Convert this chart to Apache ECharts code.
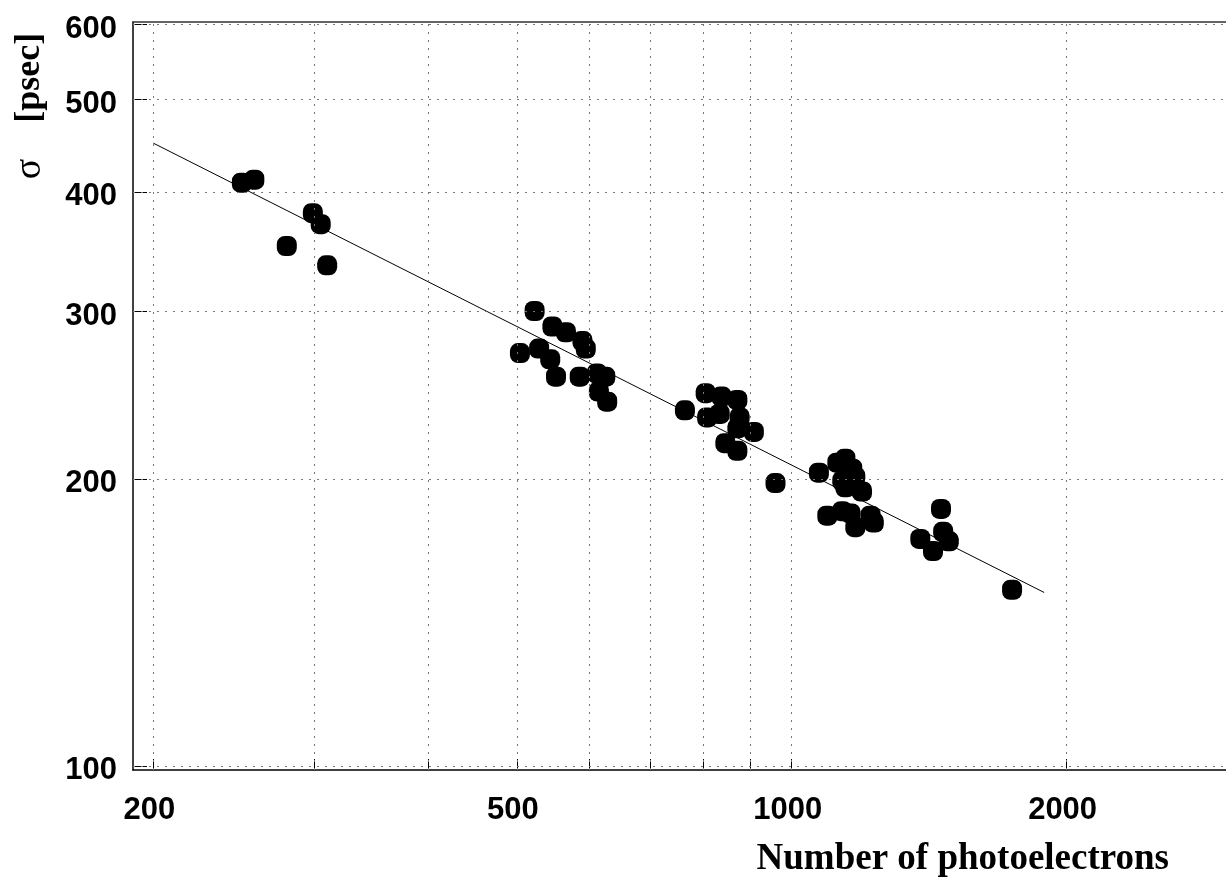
<!DOCTYPE html>
<html>
<head>
<meta charset="utf-8">
<title>sigma vs number of photoelectrons</title>
<script src="https://cdn.jsdelivr.net/npm/echarts@6/dist/echarts.min.js"></script>
<style>
    html, body { margin: 0; padding: 0; background: #fff; overflow: hidden; }
    #chart { width: 1226px; height: 884px; }
</style>
</head>
<body>
<div id="chart"></div>
<script>
// number of photoelectrons for each measurement
var photoelectrons = [250, 258, 299, 305, 280, 310,
    523, 547, 566, 590, 595, 504, 529, 544, 552, 586, 612, 625, 615, 628,
    764, 805, 838, 872, 808, 834, 877, 872, 909, 846, 872, 960,
    1071, 1145, 1122, 1165, 1174, 1136, 1145, 1194, 1094, 1136, 1160, 1220, 1230, 1174,
    1457, 1383, 1428, 1465, 1486, 1743];
// time resolution sigma [psec]
var sigmaPsec = [409, 412, 380, 370, 351, 335,
    300, 289, 285, 279, 274, 271, 274, 267, 256, 256, 258, 256, 247, 241,
    236, 246, 244, 242, 232, 234, 232, 226, 224, 218, 214, 198,
    203, 210, 208, 205, 201, 199, 196, 194, 183, 185, 184, 183, 180, 178,
    186, 173, 168, 176, 172, 153];
// fitted line (end points)
var fitPhotoelectrons = [200, 1890];
var fitSigma = [450, 152];
// ticks and labels
var xTickValues = [200, 300, 400, 500, 600, 700, 800, 900, 1000, 2000];
var xLabelValues = [200, 500, 1000, 2000];
var yTickValues = [100, 200, 300, 400, 500, 600];
var yLabelValues = [100, 200, 300, 400, 500, 600];

var points = [];
for (var i = 0; i < photoelectrons.length; i++) {
    points.push([photoelectrons[i], sigmaPsec[i]]);
}
var fitLine = [];
for (var j = 0; j < fitPhotoelectrons.length; j++) {
    fitLine.push([fitPhotoelectrons[j], fitSigma[j]]);
}
// dotted grid drawn as mark lines at the tick values
var gridMarks = [];
xTickValues.forEach(function (v) { gridMarks.push({ xAxis: v }); });
yTickValues.forEach(function (v) { gridMarks.push({ yAxis: v }); });

// rounded square marker
var blob = 'path://M8,0L12,0A8,8,0,0,1,20,8L20,12A8,8,0,0,1,12,20L8,20A8,8,0,0,1,0,12L0,8A8,8,0,0,1,8,0Z';

var labelFont = {
    fontFamily: 'Liberation Sans',
    fontWeight: 'bold',
    fontSize: 31,
    color: '#000'
};

var myChart = echarts.init(document.getElementById('chart'));

var option = {
    animation: false,
    backgroundColor: '#fff',
    // frame runs on past the right side of the picture
    grid: {
        left: 133, top: 22, width: 1110, height: 748,
        outerBoundsMode: 'none',
        containLabel: false
    },
    xAxis: [
        {
            type: 'log',
            logBase: 10,
            min: 190,
            max: 3120,
            axisLine: { show: true, lineStyle: { color: '#000', width: 1.5 } },
            axisTick: {
                show: true, inside: true, length: 11,
                customValues: xTickValues,
                lineStyle: { color: '#000', width: 1 }
            },
            axisLabel: Object.assign({
                customValues: xLabelValues,
                margin: 25,
                padding: [0, 8, 0, 0],
                formatter: function (v) { return String(Math.round(v)); }
            }, labelFont),
            splitLine: { show: false },
            minorTick: { show: false },
            minorSplitLine: { show: false }
        },
        {
            // top frame line only
            type: 'log',
            logBase: 10,
            position: 'top',
            min: 190,
            max: 3120,
            axisLine: { show: true, lineStyle: { color: '#333', width: 1.5 } },
            axisTick: { show: false },
            axisLabel: { show: false },
            splitLine: { show: false },
            minorSplitLine: { show: false }
        }
    ],
    yAxis: {
        type: 'log',
        logBase: 10,
        min: 99,
        max: 603,
        axisLine: { show: true, lineStyle: { color: '#000', width: 1.5 } },
        axisTick: {
            show: true, inside: true, length: 14,
            customValues: yTickValues,
            lineStyle: { color: '#000', width: 1 }
        },
        axisLabel: Object.assign({
            customValues: yLabelValues,
            margin: 16,
            verticalAlign: 'top',
            lineHeight: 10,
            formatter: function (v) { return String(Math.round(v)); }
        }, labelFont),
        splitLine: { show: false },
        minorTick: { show: false },
        minorSplitLine: { show: false }
    },
    graphic: {
        elements: [
            {
                type: 'text',
                x: 1169,
                y: 859,
                style: {
                    text: 'Number of photoelectrons',
                    fontFamily: 'Liberation Serif',
                    fontWeight: 'bold',
                    fontSize: 37,
                    fill: '#000',
                    align: 'right',
                    verticalAlign: 'middle'
                }
            },
            {
                type: 'text',
                x: 30,
                y: 106,
                rotation: Math.PI / 2,
                style: {
                    text: '{s|σ}    [psec]',
                    fontFamily: 'Liberation Serif',
                    fontWeight: 'bold',
                    fontSize: 36,
                    fill: '#000',
                    align: 'center',
                    verticalAlign: 'middle',
                    rich: {
                        s: { fontFamily: 'Liberation Serif', fontWeight: 'normal', fontSize: 38, fill: '#000' }
                    }
                }
            }
        ]
    },
    series: [
        {
            name: 'fit',
            type: 'line',
            data: fitLine,
            symbol: 'none',
            lineStyle: { color: '#000', width: 1 },
            z: 3
        },
        {
            name: 'data',
            type: 'scatter',
            data: points,
            symbol: blob,
            symbolSize: 20,
            itemStyle: { color: '#000', opacity: 1 },
            z: 2,
            markLine: {
                silent: true,
                animation: false,
                symbol: ['none', 'none'],
                label: { show: false },
                lineStyle: { color: '#777', width: 1, type: [2, 6] },
                emphasis: { disabled: true },
                data: gridMarks
            }
        }
    ]
};

myChart.setOption(option);
</script>
</body>
</html>
